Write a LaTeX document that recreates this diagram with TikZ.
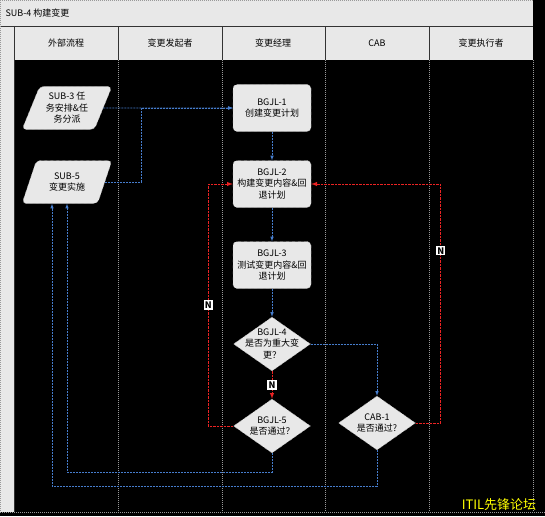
\documentclass[tikz,border=0pt]{standalone}
\usepackage{fontspec}
\setmainfont{Noto Sans CJK SC}
\usetikzlibrary{arrows,shapes.geometric}
\definecolor{flowblue}{RGB}{70,125,205}
\definecolor{flowred}{RGB}{235,35,35}
\definecolor{cellgray}{RGB}{232,232,232}
\definecolor{markyellow}{RGB}{255,255,0}
\tikzset{
  every node/.append style={font=\fontsize{9}{11.5}\selectfont},
  proc/.style={draw=gray!70, dashed, fill=cellgray, rounded corners=4pt, minimum width=78pt, minimum height=47pt, align=center, inner sep=1pt},
  io/.style={draw=gray!70, dashed, fill=cellgray, rounded corners=4pt, shape=trapezium, trapezium left angle=67, trapezium right angle=113, trapezium stretches=true, minimum width=90pt, minimum height=43pt, align=center, inner sep=1pt},
  decide/.style={draw=gray!70, dashed, fill=cellgray, shape=diamond, minimum width=77pt, minimum height=54pt, inner sep=0pt},
  fline/.style={flowblue, line width=0.6pt, dash pattern=on 2pt off 1pt},
  nline/.style={flowred, line width=1pt, dash pattern=on 2.5pt off 1pt},
  nmark/.style={fill=white, text=black, inner sep=1.2pt, font=\bfseries\fontsize{9}{9}\selectfont},
  lane/.style={gray!80, dash pattern=on 1pt off 1pt, line width=0.6pt}
}
\begin{document}
\begin{tikzpicture}[x=1pt,y=-1pt]
\useasboundingbox (0,0) rectangle (545,516);
\fill[black] (0,0) rectangle (545,516);

\fill[cellgray] (0,0) rectangle (533,26);
\fill[cellgray] (0,26) rectangle (14,512);
\fill[cellgray] (14,27) rectangle (533,60);
\draw[gray!40!black, line width=0.8pt] (0,26) -- (533,26) (14,26) -- (14,512);
\foreach \x in {118,222,325,429} \draw[gray!40!black, line width=0.8pt] (\x,27) -- (\x,60);
\foreach \x in {118,222,325,429,533} \draw[lane] (\x,60) -- (\x,512);
\draw[lane] (0,512) -- (545,512) (0,0) -- (0,512) (0,0) -- (533,0);

\node[anchor=west] (pool) at (2,13) {SUB-4 构建变更};
\foreach \x/\t [count=\i] in {66/外部流程, 170/变更发起者, 273/变更经理, 377/CAB, 481/变更执行者}
  \node (h\i) at (\x,43) {\t};

\node[io] (s3) at (67,108) {SUB-3 任\\务安排\&任\\务分派};
\node[io] (s5) at (67,182) {SUB-5\\变更实施};
\node[proc] (b1) at (272,108) {BGJL-1\\创建变更计划};
\node[proc] (b2) at (272,184) {BGJL-2\\构建变更内容\&回\\退计划};
\node[proc] (b3) at (272,265) {BGJL-3\\测试变更内容\&回\\退计划};
\node[decide, label={[align=center]center:{BGJL-4\\是否为重大变\\更？}}] (b4) at (272,344) {};
\node[decide, label={[align=center]center:{BGJL-5\\是否通过？}}] (b5) at (272,426) {};
\node[decide, label={[align=center]center:{CAB-1\\是否通过?}}] (c1) at (377,423) {};

\draw[fline,-latex] (s3.east) -- (b1.west);
\draw[fline,-latex] (s5.east) -- ++(36,0) |- (b1.west);
\draw[fline,-latex] (b1) -- (b2);
\draw[fline,-latex] (b2) -- (b3);
\draw[fline,-latex] (b3) -- (b4);
\draw[fline,-latex] (b4.east) -| (c1.north);
\draw[nline,-latex] (b4) -- (b5) node[midway, nmark] {N};
\draw[nline,-latex] (b5.west) -- ++(-25,0) |- (b2.west) node[pos=0.25, nmark] {N};
\draw[nline,-latex] (c1.east) -- ++(25,0) |- (b2.east) node[pos=0.36, nmark] {N};
\draw[fline,-latex] (b5.south) -- ++(0,19) -| (s5.south);
\draw[fline,-latex] (c1.south) -- ++(0,36) -| ([xshift=-15pt]s5.south);

\node[text=markyellow, font=\fontsize{13}{13}\selectfont] (mark) at (499,505) {ITIL先锋论坛};
\end{tikzpicture}
\end{document}
